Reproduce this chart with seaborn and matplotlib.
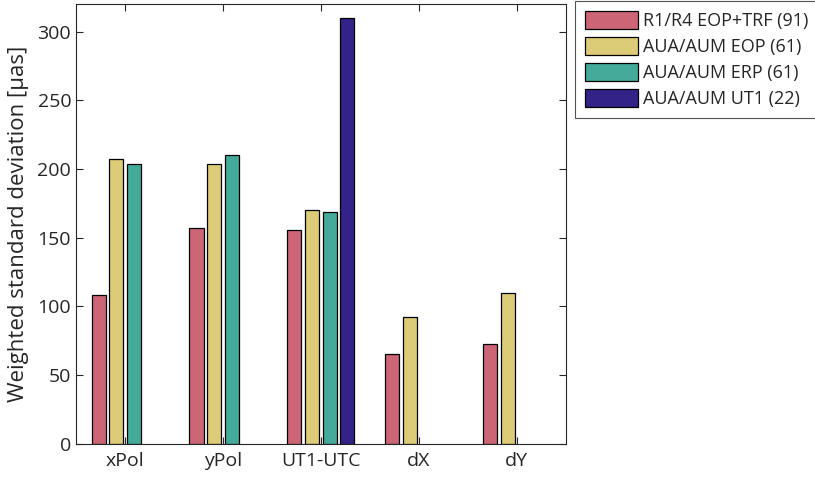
import numpy as np
import pandas as pd
import matplotlib
matplotlib.use("Agg")
import matplotlib.pyplot as plt
import seaborn as sns

# =========================
# DATA
# =========================
components = ["xPol", "yPol", "UT1-UTC", "dX", "dY"]
series = ["R1/R4 EOP+TRF (91)", "AUA/AUM EOP (61)",
          "AUA/AUM ERP (61)", "AUA/AUM UT1 (22)"]

r1r4_eop_trf = [108, 157, 156, 65.5, 73]
aua_eop = [207.5, 204, 170.5, 92.5, 110]
aua_erp = [204, 210.5, 168.5, np.nan, np.nan]
aua_ut1 = [np.nan, np.nan, 310, np.nan, np.nan]

colors = ["#CC6677", "#DDCC77", "#44AA99", "#332288"]

rows = []
for name, vals in zip(series, [r1r4_eop_trf, aua_eop, aua_erp, aua_ut1]):
    for comp, v in zip(components, vals):
        rows.append({"component": comp, "series": name, "value": v})
df = pd.DataFrame(rows)

# =========================
# STYLE
# =========================
sns.set_style("ticks")
plt.rcParams["font.family"] = ["Open Sans", "DejaVu Sans"]
plt.rcParams["xtick.direction"] = "in"
plt.rcParams["ytick.direction"] = "in"

fig = plt.figure(figsize=(8.15, 4.79), dpi=100)
ax = fig.add_axes([0.0933, 0.0731, 0.6007, 0.9185])

sns.barplot(data=df, x="component", y="value", hue="series",
            order=components, hue_order=series, palette=colors,
            width=0.72, gap=0.2, edgecolor="black", linewidth=0.9,
            saturation=1, ax=ax, errorbar=None)

ax.set_xlim(-0.5, 4.5)
ax.set_ylim(0, 320)
ax.set_yticks(range(0, 301, 50))
ax.set_xlabel("")
ax.set_ylabel("Weighted standard deviation [μas]", fontsize=16,
              color="#262626", labelpad=6)
ax.tick_params(axis="both", labelsize=14, colors="#262626",
               top=True, right=True, length=5, width=0.8)
ax.tick_params(axis="x", pad=6)
for s in ax.spines.values():
    s.set_visible(True)
    s.set_color("#262626")
    s.set_linewidth(0.8)

leg = ax.legend(loc="upper left", bbox_to_anchor=(0.706, 0.997),
                bbox_transform=fig.transFigure, fontsize=13,
                handlelength=2.9, handleheight=1.1, handletextpad=0.3,
                labelspacing=0.4, borderpad=0.55, borderaxespad=0,
                frameon=True, fancybox=False, edgecolor="#262626")
leg.get_frame().set_linewidth(0.8)

fig.savefig("out.png", dpi=100)
